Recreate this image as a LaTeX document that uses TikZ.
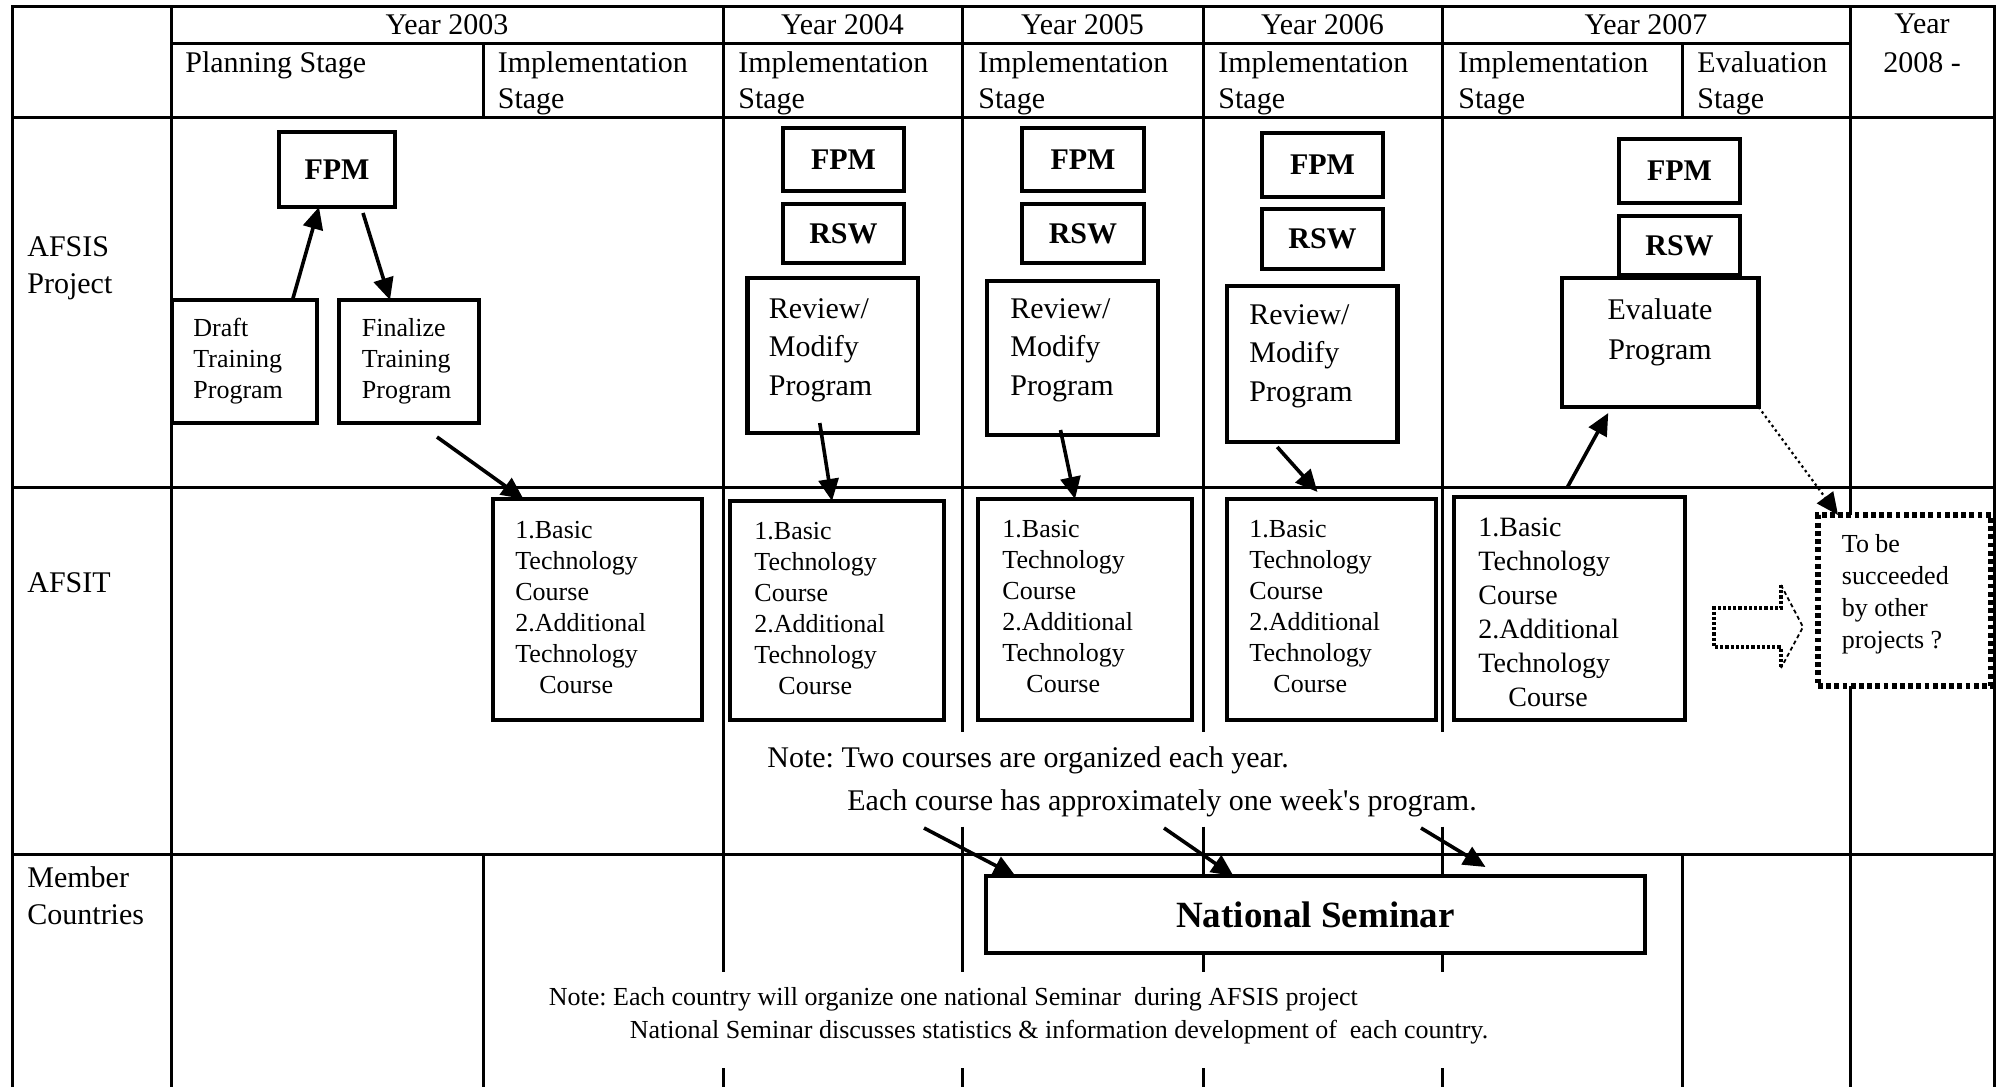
\documentclass[tikz,border=0pt]{standalone}
\usepackage{fontspec}
\setmainfont{Liberation Serif}
\usetikzlibrary{arrows.meta}
\frenchspacing
\begin{document}
\begin{tikzpicture}[x=0.5pt,y=-0.5pt,
  tline/.style={line width=1.5pt},
  box/.style={draw, line width=2.2pt, fill=white, inner sep=0pt, outer sep=0pt},
  dbox/.style={draw, line width=3pt, dash pattern=on 2.4pt off 1.7pt, fill=white, inner sep=0pt, outer sep=0pt},
  yr/.style={inner sep=0pt, font=\fontsize{15}{18}\selectfont},
  hdr/.style={inner sep=0pt, font=\fontsize{15}{18}\selectfont, align=left, anchor=west},
  rowlbl/.style={inner sep=0pt, font=\fontsize{15}{18.5}\selectfont, align=left, anchor=west},
  bt/.style={font=\fontsize{15}{18}\selectfont\bfseries},
  nst/.style={font=\fontsize{18.5}{21}\selectfont\bfseries},
  smalltxt/.style={inner sep=0pt, font=\fontsize{13}{15.5}\selectfont, align=left, anchor=west},
  midtxt/.style={inner sep=0pt, font=\fontsize{15}{19.25}\selectfont, align=left, anchor=west},
  coursetxt/.style={inner sep=0pt, font=\fontsize{13}{15.5}\selectfont, align=left, anchor=west},
  bigcourse/.style={inner sep=0pt, font=\fontsize{14}{17}\selectfont, align=left, anchor=west},
  notetxt/.style={inner sep=0pt, font=\fontsize{15}{18}\selectfont, anchor=west},
  notesmall/.style={inner sep=0pt, font=\fontsize{13}{15.5}\selectfont, anchor=west},
  arr/.style={line width=1.8pt, -{Triangle[length=11pt,width=10pt]}},
  darr/.style={line width=1.1pt, dash pattern=on 1.2pt off 1.6pt, -{Triangle[length=11pt,width=10pt]}},
  blkshaft/.style={line width=1.6pt, dash pattern=on 1.6pt off 1pt},
  blkhead/.style={line width=0.9pt, dash pattern=on 2pt off 1.5pt}
]
\useasboundingbox (0,0) rectangle (2002,1087);

% ---------- table lines ----------
\draw[tline, line join=miter] (12,1087) -- (12,6) -- (1994,6) -- (1994,1087);
\draw[tline] (171,6) -- (171,1087);
\draw[tline] (171,43) -- (1850,43);
\draw[tline] (12,117) -- (1994,117);
\draw[tline] (12,487) -- (1994,487);
\draw[tline] (12,854) -- (1994,854);
\draw[tline] (1850,6) -- (1850,1087);
\draw[tline] (723,6) -- (723,971.5);
\draw[tline] (723,1068) -- (723,1087);
\foreach \xx in {962,1203,1442}{
  \draw[tline] (\xx,6) -- (\xx,731.5);
  \draw[tline] (\xx,826.5) -- (\xx,971.5);
  \draw[tline] (\xx,1068) -- (\xx,1087);
}
\draw[tline] (483,43) -- (483,117);
\draw[tline] (483,854) -- (483,1087);
\draw[tline] (1682,43) -- (1682,117);
\draw[tline] (1682,854) -- (1682,1087);

% ---------- header ----------
\node[yr] (y03) at (447,25) {Year 2003};
\node[yr] (y04) at (842.5,25) {Year 2004};
\node[yr] (y05) at (1082.5,25) {Year 2005};
\node[yr] (y06) at (1322.5,25) {Year 2006};
\node[yr] (y07) at (1646,25) {Year 2007};
\node[yr, align=center, font=\fontsize{15}{19.5}\selectfont] (y08) at (1922,43) {Year\\2008 -};

\node[hdr] (sPlan) at (185,65) {Planning Stage};
\node[hdr] (sImp03) at (497.5,83) {Implementation\\Stage};
\node[hdr] (sImp04) at (738,83) {Implementation\\Stage};
\node[hdr] (sImp05) at (978,83) {Implementation\\Stage};
\node[hdr] (sImp06) at (1218,83) {Implementation\\Stage};
\node[hdr] (sImp07) at (1458,83) {Implementation\\Stage};
\node[hdr] (sEval07) at (1697,83) {Evaluation\\Stage};

% ---------- row labels ----------
\node[rowlbl] (rA) at (27,268) {AFSIS\\Project};
\node[rowlbl] (rB) at (27,583) {AFSIT};
\node[rowlbl] (rC) at (27,896) {Member\\Countries};

% ---------- AFSIS project row ----------
\node[box, bt, minimum width=58pt, minimum height=37.5pt] (fpmA) at (337,169.5) {FPM};
\node[box, minimum width=72.5pt, minimum height=61.5pt] (draftA) at (244.5,361.5) {};
\node[box, minimum width=70pt, minimum height=61.5pt] (finA) at (409,361.5) {};
\node[smalltxt] (draftT) at (193,361) {Draft\\Training\\Program};
\node[smalltxt] (finT) at (361.5,361) {Finalize\\Training\\Program};

\node[box, bt, minimum width=60.5pt, minimum height=31.5pt] (fpmB) at (843.5,159.5) {FPM};
\node[box, bt, minimum width=60.5pt, minimum height=29.5pt] (rswB) at (843.5,233.5) {RSW};
\node[box, minimum width=85.25pt, minimum height=77.5pt] (revB) at (832.75,355.5) {};
\node[midtxt] (revBT) at (768.5,350) {Review/\\Modify\\Program};

\node[box, bt, minimum width=61pt, minimum height=31.5pt] (fpmC) at (1083,159.5) {FPM};
\node[box, bt, minimum width=61pt, minimum height=29.5pt] (rswC) at (1083,233.5) {RSW};
\node[box, minimum width=85.5pt, minimum height=77pt] (revC) at (1072.5,358) {};
\node[midtxt] (revCT) at (1010,350) {Review/\\Modify\\Program};

\node[box, bt, minimum width=60.5pt, minimum height=32pt] (fpmD) at (1322.5,165) {FPM};
\node[box, bt, minimum width=60.5pt, minimum height=30pt] (rswD) at (1322.5,239) {RSW};
\node[box, minimum width=85.25pt, minimum height=78pt] (revD) at (1312.25,364) {};
\node[midtxt] (revDT) at (1249,356) {Review/\\Modify\\Program};

\node[box, bt, minimum width=60.5pt, minimum height=32pt] (fpmE) at (1679.5,171) {FPM};
\node[box, bt, minimum width=60.5pt, minimum height=29.5pt] (rswE) at (1679.5,245.5) {RSW};
\node[box, minimum width=98.25pt, minimum height=64.5pt] (evalE) at (1660.25,342.5) {};
\node[inner sep=0pt, font=\fontsize{15}{20}\selectfont, align=center] (evalT) at (1660,332) {Evaluate\\Program};

% ---------- AFSIT row ----------
\node[box, minimum width=104.5pt, minimum height=110.5pt] (cA) at (597.5,609.5) {};
\node[box, minimum width=107pt, minimum height=109.5pt] (cB) at (837,610.5) {};
\node[box, minimum width=107pt, minimum height=110.5pt] (cC) at (1085,609.5) {};
\node[box, minimum width=104.5pt, minimum height=110.5pt] (cD) at (1331.5,609.5) {};
\node[box, minimum width=115.5pt, minimum height=111.5pt] (cE) at (1569.5,608.5) {};
\node[coursetxt] (cAT) at (515,608) {1.Basic\\Technology\\Course\\2.Additional\\Technology\\\hspace*{12pt}Course};
\node[coursetxt] (cBT) at (754,609) {1.Basic\\Technology\\Course\\2.Additional\\Technology\\\hspace*{12pt}Course};
\node[coursetxt] (cCT) at (1002,607) {1.Basic\\Technology\\Course\\2.Additional\\Technology\\\hspace*{12pt}Course};
\node[coursetxt] (cDT) at (1249,607) {1.Basic\\Technology\\Course\\2.Additional\\Technology\\\hspace*{12pt}Course};
\node[bigcourse] (cET) at (1478,612) {1.Basic\\Technology\\Course\\2.Additional\\Technology\\\hspace*{15pt}Course};

\node[dbox, minimum width=86.5pt, minimum height=85.5pt] (dbox) at (1904.5,600.5) {};
\node[inner sep=0pt, font=\fontsize{13}{16}\selectfont, align=left, anchor=west] (dT) at (1841.5,594) {To be\\succeeded\\by other\\projects ?};

% dotted block arrow
\draw[blkshaft] (1781,585) -- (1781,608) -- (1714,608) -- (1714,647) -- (1781,647) -- (1781,668);
\draw[blkhead] (1781,585) -- (1803,627) -- (1781,668);

\node[notetxt] (noteA1) at (767,760) {Note: Two courses are organized each year.};
\node[notetxt] (noteA2) at (847,803) {Each course has approximately one week\textquotesingle s program.};

% ---------- Member countries row ----------
\node[box, nst, minimum width=329.5pt, minimum height=38.5pt] (ns) at (1315.5,914.5) {National Seminar};
\node[notesmall] (noteB1) at (548.5,999) {Note: Each country will organize one national Seminar\ \ during AFSIS project};
\node[notesmall] (noteB2) at (629.5,1032) {National Seminar discusses statistics \& information development of\ \ each country.};

\coordinate (p1) at (924,828);
\coordinate (p2) at (1164,828);
\coordinate (p3) at (1421,828);

% ---------- connectors ----------
\draw[arr] ([xshift=24pt]draftA.north) -- ([xshift=-9pt]fpmA.south);
\draw[arr] ([xshift=13pt,yshift=-3pt]fpmA.south) -- ([xshift=-9.5pt]finA.north);
\draw[arr] ([xshift=14pt,yshift=-7pt]finA.south) -- ([xshift=-37pt]cA.north);
\draw[arr] ([xshift=-6.5pt,yshift=5pt]revB.south) -- ([xshift=-2.5pt]cB.north);
\draw[arr] ([xshift=-6pt,yshift=2.5pt]revC.south) -- ([xshift=-5pt]cC.north);
\draw[arr] ([xshift=-17.5pt,yshift=-2.5pt]revD.south) -- ([xshift=-7pt,yshift=3.5pt]cD.north);
\draw[arr] ([xshift=-1pt,yshift=5pt]cE.north) -- ([xshift=-26pt,yshift=-3pt]evalE.south);
\draw[darr] (evalE.south east) -- ([xshift=10pt]dbox.north west);
\draw[arr] (p1) -- ([xshift=-150pt]ns.north);
\draw[arr] (p2) -- ([xshift=-41pt]ns.north);
\draw[arr] (p3) -- ([xshift=85pt,yshift=4.5pt]ns.north);
\end{tikzpicture}
\end{document}
